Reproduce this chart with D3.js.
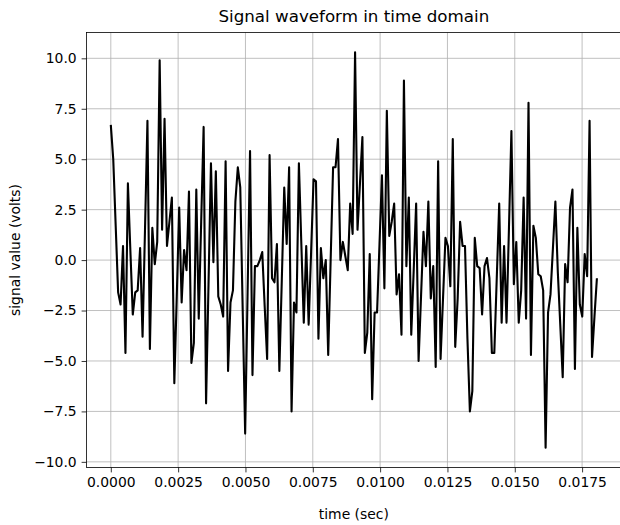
<!DOCTYPE html>
<html>
<head>
<meta charset="utf-8">
<script src="https://cdn.jsdelivr.net/npm/d3@7"></script>
<style>
  html, body { margin: 0; padding: 0; background: #fff; overflow: hidden; }
  svg { display: block; }
  text { font-family: "DejaVu Sans", sans-serif; fill: #000; }
</style>
</head>
<body>
<svg id="chart" width="620" height="525"></svg>
<script>
// ---- data ----
const sampleRate = 11025; // Hz
const signalValues = [
  6.7, 5.0, 1.7, -1.6, -2.2, 0.7, -4.6, 3.8, 0.5, -2.7,
  -1.6, -1.5, 0.6, -3.8, 1.5, 6.9, -4.4, 1.6, -0.2, 0.9,
  9.9, 1.5, 7.0, 0.7, 1.9, 3.1, -6.1, -1.8, 2.6, -2.1,
  0.5, -0.5, 3.4, -5.1, -4.1, 3.5, -2.9, 1.9, 6.6, -7.1,
  -1.2, 4.8, -0.1, 4.4, -1.8, -2.2, -2.8, 4.9, -5.5, -2.1,
  -1.5, 2.9, 4.6, 3.6, -2.5, -8.6, -1.6, 5.4, -5.7, -0.3,
  -0.3, 0.0, 0.4, -2.3, -4.9, 5.2, -0.9, -1.1, 0.8, -5.5,
  -1.0, 3.6, 0.8, 4.6, -7.5, -2.1, -2.6, 4.8, 0.8, -3.1,
  0.7, -3.2, 0.4, 4.0, 3.9, -3.9, 0.6, -0.9, 0.0, -4.7,
  0.0, 4.6, 4.6, 6.0, 0.0, 0.9, 0.2, -0.5, 2.8, 1.3,
  10.3, 1.5, 3.8, 6.1, -4.6, -3.6, 0.3, -6.9, -2.6, -2.6,
  0.8, 4.2, -1.4, 7.4, 1.2, 1.9, 2.8, -1.7, -0.7, -3.7,
  8.9, -0.3, 3.1, -3.7, -0.5, 2.8, -5.0, -1.8, 1.4, -0.3,
  2.9, -1.9, -0.3, -5.3, 4.9, -4.9, -1.9, 1.1, 0.7, -1.3,
  6.0, -4.3, -1.9, 1.9, 0.7, 0.7, -3.9, -7.5, -6.5, 1.1,
  -0.3, -0.4, -2.7, -0.3, 0.1, -0.9, -4.6, -4.6, -0.9, 2.8,
  -3.1, 0.7, -3.1, 1.6, 6.4, -1.2, 0.9, -3.1, -1.5, 3.1,
  -2.9, 7.8, -4.7, 1.7, 1.1, -0.7, -0.8, -1.5, -9.3, -2.6,
  -1.7, 0.6, 2.9, -0.6, -3.2, -5.8, -0.2, -1.1, 2.6, 3.5,
  -5.4, 1.6, -2.2, -2.8, 0.3, -0.8, 6.9, -4.8, -2.8, -0.9
];
const xTickValues = [0, 0.0025, 0.005, 0.0075, 0.01, 0.0125, 0.015, 0.0175];
const yTickValues = [-10, -7.5, -5, -2.5, 0, 2.5, 5, 7.5, 10];
const titleText = "Signal waveform in time domain";
const xLabelText = "time (sec)";
const yLabelText = "signal value (volts)";

// ---- build ----
const points = signalValues.map((v, i) => ({ t: i / sampleRate, v }));

const svg = d3.select("#chart");
const plotLeft = 86.5, plotTop = 32.5, plotBottom = 467.5;
const pxPerSec = 26931;

const tMin = d3.min(points, d => d.t), tMax = d3.max(points, d => d.t);
const tPad = (tMax - tMin) * 0.05;
const vMin = d3.min(signalValues), vMax = d3.max(signalValues);
const vPad = (vMax - vMin) * 0.05;

const xDomain = [tMin - tPad, tMax + tPad];
const plotRight = plotLeft + (xDomain[1] - xDomain[0]) * pxPerSec;

const x = d3.scaleLinear().domain(xDomain).range([plotLeft, plotRight]);
const y = d3.scaleLinear().domain([vMin - vPad, vMax + vPad]).range([plotBottom, plotTop]);

const fmtY = v => d3.format(".1f")(v).replace("-", "\u2212");
const fmtX = v => d3.format(".4f")(v);

// grid
const grid = svg.append("g");
grid.selectAll("line.vx").data(xTickValues).join("line")
  .attr("x1", d => x(d)).attr("x2", d => x(d))
  .attr("y1", plotTop).attr("y2", plotBottom)
  .attr("stroke", "#b0b0b0").attr("stroke-width", 0.8);
grid.selectAll("line.hy").data(yTickValues).join("line")
  .attr("x1", plotLeft).attr("x2", plotRight)
  .attr("y1", d => y(d)).attr("y2", d => y(d))
  .attr("stroke", "#b0b0b0").attr("stroke-width", 0.8);

// line
const line = d3.line().x(d => x(d.t)).y(d => y(d.v));
svg.append("path").datum(points)
  .attr("d", line).attr("fill", "none")
  .attr("stroke", "#000").attr("stroke-width", 2.1)
  .attr("stroke-linejoin", "round");

// frame
svg.append("rect")
  .attr("x", plotLeft).attr("y", plotTop)
  .attr("width", plotRight - plotLeft).attr("height", plotBottom - plotTop)
  .attr("fill", "none").attr("stroke", "#000").attr("stroke-width", 0.8);

// axes
const xAxis = d3.axisBottom(x).tickValues(xTickValues).tickFormat(fmtX)
  .tickSizeInner(4.9).tickSizeOuter(0).tickPadding(4.9);
const gx = svg.append("g").attr("transform", `translate(0,${plotBottom})`).call(xAxis);
gx.select(".domain").remove();
gx.selectAll("line").attr("stroke", "#000").attr("stroke-width", 0.8);
gx.selectAll("text").attr("font-size", 13.9).attr("font-family", "DejaVu Sans").attr("fill", "#000");

const yAxis = d3.axisLeft(y).tickValues(yTickValues).tickFormat(fmtY)
  .tickSizeInner(4.9).tickSizeOuter(0).tickPadding(4.9);
const gy = svg.append("g").attr("transform", `translate(${plotLeft},0)`).call(yAxis);
gy.select(".domain").remove();
gy.selectAll("line").attr("stroke", "#000").attr("stroke-width", 0.8);
gy.selectAll("text").attr("font-size", 13.9).attr("font-family", "DejaVu Sans").attr("fill", "#000");

// title & labels
svg.append("text")
  .attr("x", (plotLeft + plotRight) / 2).attr("y", 22)
  .attr("text-anchor", "middle").attr("font-size", 16.7)
  .text(titleText);
svg.append("text")
  .attr("x", (plotLeft + plotRight) / 2).attr("y", 519)
  .attr("text-anchor", "middle").attr("font-size", 13.9)
  .text(xLabelText);
svg.append("text")
  .attr("transform", `translate(20,${(plotTop + plotBottom) / 2}) rotate(-90)`)
  .attr("text-anchor", "middle").attr("font-size", 13.9)
  .text(yLabelText);
</script>
</body>
</html>
